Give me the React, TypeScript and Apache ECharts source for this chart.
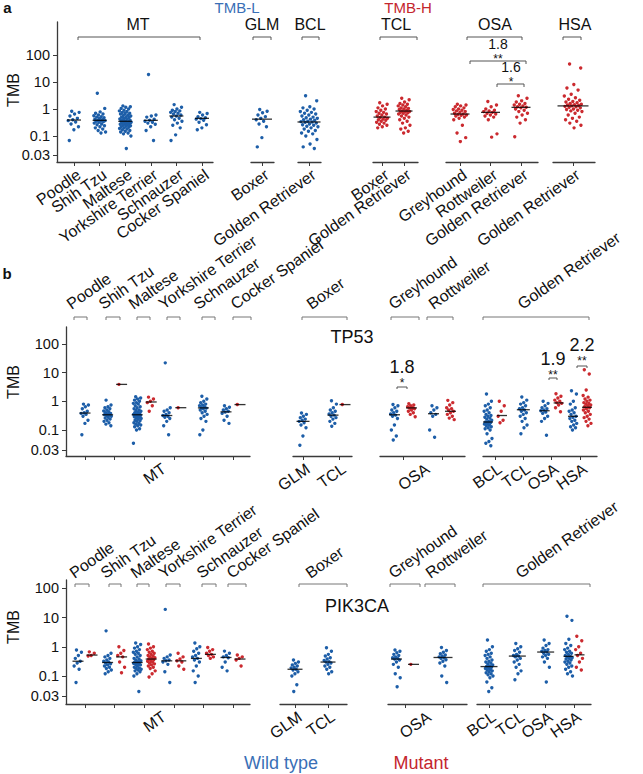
import React, { useEffect, useRef } from "react";
import * as echarts from "echarts";

// ================= DATA =================
// Y tick labels (TMB)
const yTickValues = [0.03, 0.1, 1, 10, 100];
const yTickLabels = ["0.03", "0.1", "1", "10", "100"];

// ---------- Panel a ----------
const aGroupNames = ["MT", "GLM", "BCL", "TCL", "OSA", "HSA"];
const aCats_MT = ["Poodle", "Shih Tzu", "Maltese", "Yorkshire Terrier", "Schnauzer", "Cocker Spaniel"];
const aCats_GLM = ["Boxer"];
const aCats_BCL = ["Golden Retriever"];
const aCats_TCL = ["Boxer", "Golden Retriever"];
const aCats_OSA = ["Greyhound", "Rottweiler", "Golden Retriever"];
const aCats_HSA = ["Golden Retriever"];

const a_MT_Poodle = [0.82, 0.75, 0.65, 0.55, 0.45, 0.4, 0.37, 0.33, 0.28, 0.22, 0.17, 0.075];
const a_MT_ShihTzu = [3.8, 1.05, 0.78, 0.7, 0.65, 0.6, 0.56, 0.52, 0.5, 0.47, 0.45, 0.42, 0.4, 0.38, 0.37, 0.36, 0.35, 0.34, 0.32, 0.3, 0.28, 0.26, 0.24, 0.22, 0.2, 0.18, 0.16, 0.14, 0.13];
const a_MT_Maltese = [1.3, 1.2, 1.15, 1.05, 1.0, 0.9, 0.85, 0.8, 0.75, 0.7, 0.68, 0.65, 0.6, 0.58, 0.55, 0.52, 0.5, 0.48, 0.45, 0.43, 0.42, 0.4, 0.38, 0.36, 0.35, 0.34, 0.33, 0.32, 0.31, 0.3, 0.29, 0.28, 0.27, 0.26, 0.25, 0.24, 0.23, 0.22, 0.21, 0.2, 0.19, 0.18, 0.17, 0.16, 0.15, 0.14, 0.13, 0.12, 0.1, 0.045];
const a_MT_Yorkshire = [19, 0.6, 0.55, 0.5, 0.42, 0.38, 0.35, 0.32, 0.3, 0.27, 0.22, 0.16, 0.075];
const a_MT_Schnauzer = [1.45, 1.15, 1.0, 0.9, 0.85, 0.8, 0.75, 0.7, 0.65, 0.6, 0.55, 0.5, 0.45, 0.4, 0.35, 0.3, 0.25, 0.2, 0.11, 0.075];
const a_MT_Cocker = [0.75, 0.68, 0.6, 0.52, 0.47, 0.44, 0.42, 0.38, 0.32, 0.26, 0.2, 0.17];
const a_GLM_Boxer = [0.95, 0.82, 0.72, 0.6, 0.52, 0.45, 0.4, 0.35, 0.28, 0.22, 0.09, 0.05];
const a_BCL_Golden = [3.1, 2.0, 1.2, 1.1, 1.0, 0.9, 0.8, 0.75, 0.7, 0.65, 0.6, 0.55, 0.5, 0.47, 0.45, 0.42, 0.4, 0.38, 0.35, 0.34, 0.33, 0.32, 0.3, 0.28, 0.26, 0.25, 0.23, 0.22, 0.2, 0.18, 0.16, 0.15, 0.13, 0.12, 0.1, 0.08, 0.06, 0.05, 0.045];
const a_TCL_Boxer = [1.7, 1.5, 1.3, 1.1, 1.0, 0.9, 0.8, 0.75, 0.7, 0.65, 0.6, 0.55, 0.5, 0.48, 0.45, 0.42, 0.4, 0.38, 0.35, 0.32, 0.3, 0.27, 0.25, 0.22, 0.2];
const a_TCL_Golden = [2.5, 2.2, 1.8, 1.6, 1.5, 1.4, 1.3, 1.2, 1.1, 1.05, 1.0, 0.95, 0.9, 0.85, 0.8, 0.78, 0.75, 0.72, 0.7, 0.65, 0.6, 0.55, 0.5, 0.45, 0.4, 0.35, 0.3, 0.25, 0.2, 0.18, 0.15, 0.13];
const a_OSA_Greyhound = [1.5, 1.4, 1.3, 1.2, 1.1, 1.0, 0.95, 0.9, 0.85, 0.8, 0.75, 0.7, 0.65, 0.62, 0.6, 0.58, 0.55, 0.5, 0.45, 0.4, 0.25, 0.13, 0.09, 0.07];
const a_OSA_Rottweiler = [1.9, 1.4, 1.2, 1.0, 0.9, 0.85, 0.8, 0.75, 0.7, 0.65, 0.6, 0.55, 0.5, 0.4, 0.12, 0.093];
const a_OSA_Golden = [3.1, 2.5, 2.0, 1.8, 1.6, 1.5, 1.4, 1.3, 1.2, 1.15, 1.1, 1.0, 0.9, 0.8, 0.7, 0.6, 0.5, 0.4, 0.3, 0.095];
const a_HSA_Golden = [46, 33, 8, 6, 5, 3.5, 3, 2.6, 2.3, 2.1, 1.9, 1.8, 1.7, 1.6, 1.5, 1.45, 1.4, 1.35, 1.3, 1.25, 1.2, 1.15, 1.1, 1.0, 0.95, 0.9, 0.85, 0.8, 0.7, 0.6, 0.5, 0.45, 0.4, 0.35, 0.3, 0.25, 0.2];

const aMed_MT = [0.39, 0.38, 0.35, 0.38, 0.55, 0.45];
const aMed_GLM = [0.42];
const aMed_BCL = [0.33];
const aMed_TCL = [0.5, 0.84];
const aMed_OSA = [0.65, 0.75, 1.15];
const aMed_HSA = [1.3];

const aSigValues = ["1.8", "1.6"];
const aSigStars = ["**", "*"];

// ---------- Panel b ----------
const bTopLabels = ["Poodle", "Shih Tzu", "Maltese", "Yorkshire Terrier", "Schnauzer", "Cocker Spaniel", "Boxer", "Greyhound", "Rottweiler", "Golden Retriever"];
const bCats_MT = ["MT"];
const bCats_Boxer = ["GLM", "TCL"];
const bCats_OSA = ["OSA"];
const bCats_Golden = ["BCL", "TCL", "OSA", "HSA"];
const legendLabels = ["Wild type", "Mutant"];

// TP53 — wild type / mutant per category
const tp53_MT_WT = [
  [0.8, 0.75, 0.65, 0.55, 0.45, 0.4, 0.38, 0.35, 0.3, 0.22, 0.17, 0.075],
  [1.1, 0.75, 0.65, 0.6, 0.55, 0.5, 0.46, 0.43, 0.4, 0.38, 0.36, 0.34, 0.33, 0.32, 0.3, 0.28, 0.26, 0.24, 0.22, 0.2, 0.18, 0.16, 0.14],
  [1.45, 1.3, 1.2, 1.1, 1.0, 0.9, 0.85, 0.8, 0.7, 0.65, 0.6, 0.55, 0.5, 0.48, 0.45, 0.42, 0.4, 0.38, 0.36, 0.35, 0.34, 0.33, 0.32, 0.3, 0.29, 0.28, 0.26, 0.25, 0.24, 0.22, 0.21, 0.2, 0.18, 0.17, 0.16, 0.15, 0.14, 0.13, 0.11, 0.1, 0.045],
  [22, 0.6, 0.5, 0.45, 0.4, 0.35, 0.32, 0.3, 0.28, 0.25, 0.2, 0.14, 0.075],
  [1.5, 1.2, 1.0, 0.9, 0.8, 0.75, 0.7, 0.65, 0.6, 0.58, 0.55, 0.5, 0.45, 0.4, 0.35, 0.3, 0.25, 0.2, 0.1, 0.075],
  [0.7, 0.62, 0.55, 0.5, 0.45, 0.42, 0.38, 0.3, 0.22, 0.17],
];
const tp53_MT_MUT = [[], [3.9], [1.4, 1.2, 1.0, 0.9, 0.7, 0.45], [0.6], [], [0.77]];
const tp53_MT_WTmed = [0.39, 0.34, 0.34, 0.32, 0.59, 0.43];
const tp53_MT_MUTmed = [null, 3.9, 0.95, 0.6, null, 0.77];

const tp53_Boxer_WT = [
  [0.39, 0.35, 0.3, 0.27, 0.24, 0.22, 0.2, 0.18, 0.15, 0.12, 0.07, 0.04],
  [1.05, 0.8, 0.6, 0.5, 0.45, 0.4, 0.36, 0.33, 0.3, 0.27, 0.24, 0.2, 0.17, 0.135],
];
const tp53_Boxer_MUT = [[], [0.77]];
const tp53_Boxer_WTmed = [0.2, 0.33];
const tp53_Boxer_MUTmed = [null, 0.77];

const tp53_OSA_WT = [
  [0.77, 0.7, 0.6, 0.5, 0.45, 0.4, 0.36, 0.33, 0.3, 0.25, 0.15, 0.1, 0.07, 0.055],
  [0.7, 0.6, 0.5, 0.4, 0.35, 0.3, 0.1, 0.065],
];
const tp53_OSA_MUT = [
  [0.83, 0.75, 0.7, 0.65, 0.6, 0.58, 0.55, 0.5, 0.45, 0.4, 0.35, 0.29],
  [1.08, 0.9, 0.75, 0.6, 0.55, 0.5, 0.45, 0.4, 0.35, 0.3, 0.26, 0.23],
];
const tp53_OSA_WTmed = [0.34, 0.37];
const tp53_OSA_MUTmed = [0.59, 0.45];

const tp53_Golden_WT = [
  [1.8, 1.0, 0.8, 0.7, 0.6, 0.5, 0.45, 0.4, 0.35, 0.32, 0.3, 0.28, 0.26, 0.24, 0.22, 0.2, 0.19, 0.18, 0.17, 0.16, 0.15, 0.14, 0.13, 0.12, 0.11, 0.1, 0.08, 0.06, 0.05, 0.045, 0.039],
  [1.42, 1.1, 0.9, 0.8, 0.7, 0.6, 0.55, 0.5, 0.45, 0.4, 0.35, 0.3, 0.25, 0.2, 0.15, 0.12, 0.08],
  [1.0, 0.85, 0.7, 0.6, 0.55, 0.5, 0.47, 0.42, 0.38, 0.3, 0.25, 0.2, 0.073],
  [2.35, 1.8, 1.0, 0.8, 0.6, 0.5, 0.45, 0.4, 0.35, 0.3, 0.28, 0.25, 0.22, 0.2, 0.17, 0.15, 0.13, 0.12, 0.1],
];
const tp53_Golden_MUT = [
  [1.0, 0.7, 0.45, 0.3, 0.22, 0.18],
  [],
  [1.85, 1.5, 1.3, 1.1, 1.0, 0.9, 0.85, 0.75, 0.6, 0.43],
  [12.7, 9, 2.5, 1.6, 1.4, 1.2, 1.1, 1.0, 0.9, 0.85, 0.8, 0.75, 0.7, 0.65, 0.6, 0.55, 0.5, 0.45, 0.4, 0.35, 0.3, 0.27, 0.24, 0.2, 0.17, 0.14],
];
const tp53_Golden_WTmed = [0.19, 0.51, 0.47, 0.3];
const tp53_Golden_MUTmed = [0.32, null, 0.88, 0.62];

const tp53SigValues = ["1.8", "1.9", "2.2"];
const tp53SigStars = ["*", "**", "**"];

// PIK3CA — wild type / mutant per category
const pik_MT_WT = [
  [0.77, 0.65, 0.5, 0.4, 0.32, 0.28, 0.22, 0.17, 0.068],
  [3.5, 0.6, 0.5, 0.45, 0.4, 0.35, 0.32, 0.3, 0.28, 0.26, 0.24, 0.22, 0.2, 0.18, 0.16, 0.14, 0.12],
  [1.35, 1.2, 1.0, 0.9, 0.8, 0.7, 0.65, 0.6, 0.55, 0.5, 0.45, 0.4, 0.38, 0.35, 0.33, 0.31, 0.3, 0.29, 0.28, 0.27, 0.26, 0.25, 0.24, 0.22, 0.2, 0.19, 0.18, 0.17, 0.16, 0.15, 0.14, 0.12, 0.1, 0.04],
  [19, 0.52, 0.45, 0.4, 0.35, 0.33, 0.3, 0.25, 0.14, 0.068],
  [1.35, 1.0, 0.85, 0.7, 0.6, 0.5, 0.45, 0.4, 0.35, 0.3, 0.22, 0.15, 0.1, 0.068],
  [0.71, 0.6, 0.5, 0.45, 0.42, 0.3, 0.2, 0.15],
];
const pik_MT_MUT = [
  [0.67, 0.6, 0.5, 0.48],
  [1.0, 0.75, 0.6, 0.5, 0.45, 0.3, 0.2, 0.13],
  [1.25, 1.0, 0.9, 0.8, 0.7, 0.65, 0.6, 0.55, 0.5, 0.48, 0.45, 0.42, 0.4, 0.38, 0.36, 0.34, 0.32, 0.3, 0.28, 0.26, 0.24, 0.22, 0.2, 0.18, 0.15, 0.12, 0.094],
  [0.6, 0.45, 0.38, 0.33, 0.3, 0.22, 0.17],
  [0.95, 0.8, 0.7, 0.6, 0.55, 0.5, 0.45, 0.4],
  [0.52, 0.45, 0.4, 0.35, 0.22],
];
const pik_MT_WTmed = [0.32, 0.29, 0.29, 0.33, 0.4, 0.43];
const pik_MT_MUTmed = [0.52, 0.45, 0.38, 0.33, 0.55, 0.38];

const pik_Boxer_WT = [
  [0.35, 0.3, 0.27, 0.24, 0.22, 0.2, 0.19, 0.17, 0.16, 0.14, 0.12, 0.1, 0.06, 0.04],
  [0.92, 0.7, 0.55, 0.48, 0.42, 0.38, 0.34, 0.31, 0.3, 0.28, 0.25, 0.22, 0.2, 0.17, 0.14, 0.12],
];
const pik_Boxer_MUT = [[], []];
const pik_Boxer_WTmed = [0.17, 0.3];
const pik_Boxer_MUTmed = [null, null];

const pik_OSA_WT = [
  [0.77, 0.7, 0.62, 0.55, 0.5, 0.45, 0.42, 0.4, 0.38, 0.35, 0.3, 0.25, 0.2, 0.12, 0.09, 0.053],
  [0.95, 0.75, 0.65, 0.58, 0.52, 0.48, 0.45, 0.42, 0.4, 0.36, 0.32, 0.28, 0.22, 0.1, 0.068],
];
const pik_OSA_MUT = [[0.25], []];
const pik_OSA_WTmed = [0.38, 0.43];
const pik_OSA_MUTmed = [0.25, null];

const pik_Golden_WT = [
  [1.7, 1.0, 0.8, 0.7, 0.6, 0.55, 0.5, 0.45, 0.4, 0.35, 0.32, 0.3, 0.28, 0.26, 0.24, 0.22, 0.21, 0.2, 0.19, 0.18, 0.17, 0.16, 0.15, 0.14, 0.13, 0.12, 0.11, 0.1, 0.09, 0.07, 0.05, 0.04],
  [1.3, 1.0, 0.85, 0.75, 0.65, 0.55, 0.5, 0.48, 0.45, 0.4, 0.35, 0.3, 0.25, 0.2, 0.15, 0.12, 0.08],
  [1.7, 1.3, 1.1, 0.9, 0.8, 0.75, 0.7, 0.66, 0.6, 0.55, 0.5, 0.45, 0.4, 0.3, 0.2, 0.07],
  [11, 8, 1.8, 1.3, 1.1, 0.9, 0.8, 0.7, 0.65, 0.6, 0.55, 0.5, 0.47, 0.45, 0.42, 0.4, 0.38, 0.35, 0.32, 0.3, 0.28, 0.25, 0.22, 0.2, 0.17, 0.14, 0.12, 0.1],
];
const pik_Golden_MUT = [[], [], [], [2.3, 1.6, 1.0, 0.8, 0.6, 0.5, 0.4, 0.3, 0.2, 0.16]];
const pik_Golden_WTmed = [0.21, 0.48, 0.66, 0.47];
const pik_Golden_MUTmed = [null, null, null, 0.53];

// ================= LAYOUT / STYLE =================
const FONT = '"Liberation Sans", Arial, Helvetica, sans-serif';
const BLUE = "#1d5ea8";
const RED = "#cb2a2f";
const BLUE_T = "#3a6fb6";
const RED_T = "#c4262e";
const INK = "#111111";
const AXIS = "#3a3a3a";
const LABEL_SHIFT = 5;
const CAT_FONT = 16;
const ROT = (35 * Math.PI) / 180;

// axis transform: log10 above 0.1, stretched log below (matches the figure's spacing)
const tr = (v: number) => (v >= 0.1 ? Math.log10(v) : -1 + 1.34 * Math.log10(v / 0.1));

const jit = (i: number) => ((i * 0.618034 + 0.31) % 1) - 0.5;

type Seg = { x0: number; x1: number; ticks: number[]; jit: number; medW: number; medW1?: number; dodge?: number };

function segScale(seg: Seg) {
  const n = seg.ticks.length;
  const s = n > 1 ? (seg.ticks[n - 1] - seg.ticks[0]) / (n - 1) : seg.x1 - seg.x0;
  const min = -(seg.ticks[0] - seg.x0) / s;
  const max = n - 1 + (seg.x1 - seg.ticks[n - 1]) / s;
  return { s, min, max };
}

const aLayout: Seg[] = [
  { x0: 57, x1: 213, ticks: [74, 99, 124, 151, 177, 202], jit: 6, medW: 14 },
  { x0: 251, x1: 274, ticks: [262], jit: 6, medW: 20 },
  { x0: 298, x1: 321, ticks: [309], jit: 9, medW: 23 },
  { x0: 373, x1: 418, ticks: [382, 404], jit: 6, medW: 17 },
  { x0: 446, x1: 538, ticks: [460, 491, 521], jit: 7, medW: 19 },
  { x0: 553, x1: 595, ticks: [573], jit: 9, medW: 31 },
];
const tp53Layout: Seg[] = [
  { x0: 66, x1: 250, ticks: [85, 114, 144, 173, 203, 233], jit: 4, medW: 11, medW1: 11, dodge: 7 },
  { x0: 293, x1: 352, ticks: [303, 339], jit: 4, medW: 11, medW1: 13, dodge: 6 },
  { x0: 380, x1: 465, ticks: [403, 442], jit: 4, medW: 11, medW1: 16, dodge: 8.5 },
  { x0: 483, x1: 597, ticks: [495, 523, 552, 580], jit: 4, medW: 10, medW1: 13, dodge: 7 },
];
const pikLayout: Seg[] = [
  { x0: 66, x1: 250, ticks: [85, 114, 144, 173, 203, 233], jit: 4, medW: 11, medW1: 11, dodge: 7 },
  { x0: 280, x1: 347, ticks: [295, 328], jit: 4, medW: 11, medW1: 15, dodge: 6 },
  { x0: 388, x1: 467, ticks: [405, 443], jit: 4, medW: 11, medW1: 19, dodge: 8.5 },
  { x0: 477, x1: 591, ticks: [489, 518, 546, 574], jit: 4, medW: 10, medW1: 17, dodge: 5.5 },
];

function buildOption() {
  const grids: any[] = [];
  const xAxes: any[] = [];
  const yAxes: any[] = [];
  const series: any[] = [];
  const g: any[] = [];
  const yTicks = yTickValues.map(tr);
  const yFmt = (v: number) => {
    const i = yTicks.findIndex((t) => Math.abs(t - v) < 1e-4);
    return i >= 0 ? yTickLabels[i] : "";
  };

  const text = (x: number, y: number, t: string, o: any = {}) =>
    g.push({
      type: "text",
      x,
      y,
      rotation: o.rotation || 0,
      silent: true,
      style: {
        text: t,
        fill: o.fill || INK,
        fontSize: o.size || 14,
        fontFamily: FONT,
        fontWeight: o.weight || "normal",
        align: o.align || "center",
        verticalAlign: o.va || "middle",
        textAlign: o.align || "center",
        textVerticalAlign: o.va || "middle",
      },
    });
  const bracket = (x0: number, x1: number, y: number, h = 3, color = "#555") =>
    g.push({
      type: "polyline",
      silent: true,
      shape: { points: [[x0, y + h], [x0, y], [x1, y], [x1, y + h]] },
      style: { stroke: color, lineWidth: 1, fill: null },
    });

  // labelMode: "axis" -> ECharts axis labels; "graphic" -> rotated texts placed under each tick
  function addGrid(seg: Seg, top: number, bottom: number, yMin: number, yMax: number, first: boolean, labelPos: number[], labelTexts: string[], labelMode: string) {
    const gi = grids.length;
    const { s, min, max } = segScale(seg);
    grids.push({ left: seg.x0, width: seg.x1 - seg.x0, top, height: bottom - top, containLabel: false, outerBoundsMode: "none" });
    const labVals = labelPos.map((p) => p + LABEL_SHIFT / s);
    const useAxis = labelMode === "axis";
    if (!useAxis) {
      labelPos.forEach((p, i) => {
        const px = seg.x0 + ((p - min) / (max - min)) * (seg.x1 - seg.x0) + LABEL_SHIFT;
        text(px, bottom + 11, labelTexts[i], { align: "right", va: "middle", rotation: ROT, size: CAT_FONT });
      });
    }
    xAxes.push({
      type: "value",
      gridIndex: gi,
      min,
      max,
      axisLine: { show: true, onZero: false, lineStyle: { color: AXIS, width: 1.3 } },
      axisTick: { show: true, customValues: seg.ticks.map((_, i) => i), length: 4, lineStyle: { color: AXIS, width: 1 } },
      axisLabel: {
        show: useAxis,
        customValues: labVals,
        interval: 0,
        showMinLabel: true,
        showMaxLabel: true,
        hideOverlap: false,
        rotate: 35,
        margin: 11,
        fontSize: CAT_FONT,
        color: INK,
        fontFamily: FONT,
        formatter: (v: number) => {
          const i = labVals.findIndex((t) => Math.abs(t - v) < 1e-4);
          return i >= 0 ? labelTexts[i] : "";
        },
      },
      splitLine: { show: false },
    });
    yAxes.push(
      first
        ? {
            type: "value",
            gridIndex: gi,
            min: yMin,
            max: yMax,
            axisLine: { show: true, onZero: false, lineStyle: { color: AXIS, width: 1.3 } },
            axisTick: { show: true, customValues: yTicks, length: 4, lineStyle: { color: AXIS, width: 1 } },
            axisLabel: {
              show: true,
              customValues: yTicks,
              formatter: yFmt,
              showMinLabel: true,
              showMaxLabel: true,
              fontSize: 14.5,
              color: INK,
              fontFamily: FONT,
              margin: 7,
            },
            splitLine: { show: false },
          }
        : { type: "value", gridIndex: gi, min: yMin, max: yMax, show: false }
    );
    return { gi, s };
  }

  function addPoints(gi: number, color: string, data: number[][]) {
    series.push({
      type: "scatter",
      xAxisIndex: gi,
      yAxisIndex: gi,
      symbolSize: 3.4,
      itemStyle: { color, opacity: 1 },
      data,
      silent: true,
      z: 2,
    });
  }
  function addMedians(gi: number, data: number[][], w: number) {
    series.push({
      type: "scatter",
      xAxisIndex: gi,
      yAxisIndex: gi,
      symbol: "rect",
      symbolSize: [w, 1.3],
      itemStyle: { color: "#000" },
      data,
      silent: true,
      z: 3,
    });
  }

  // ---- panel a ----
  const aVals = [
    [a_MT_Poodle, a_MT_ShihTzu, a_MT_Maltese, a_MT_Yorkshire, a_MT_Schnauzer, a_MT_Cocker],
    [a_GLM_Boxer],
    [a_BCL_Golden],
    [a_TCL_Boxer, a_TCL_Golden],
    [a_OSA_Greyhound, a_OSA_Rottweiler, a_OSA_Golden],
    [a_HSA_Golden],
  ];
  const aMeds = [aMed_MT, aMed_GLM, aMed_BCL, aMed_TCL, aMed_OSA, aMed_HSA];
  const aCats = [aCats_MT, aCats_GLM, aCats_BCL, aCats_TCL, aCats_OSA, aCats_HSA];
  const aColors = [BLUE, BLUE, BLUE, RED, RED, RED];
  aLayout.forEach((seg, k) => {
    const { gi, s } = addGrid(seg, 22, 162, -1.963, 3.22, k === 0, aCats[k].map((_, i) => i), aCats[k], "graphic");
    const pts: number[][] = [];
    aVals[k].forEach((arr, c) => arr.forEach((v, i) => pts.push([c + (jit(i) * 2 * seg.jit) / s, tr(v)])));
    addPoints(gi, aColors[k], pts);
    addMedians(gi, aMeds[k].map((m, c) => [c, tr(m)]), seg.medW);
  });

  // ---- panel b ----
  function addGenePanel(layout: Seg[], top: number, bottom: number, yMin: number, yMax: number, segs: any[]) {
    const labelsPos = [[2.5], [0, 1], [0.5], [0, 1, 2, 3]];
    const labelsTxt = [bCats_MT, bCats_Boxer, bCats_OSA, bCats_Golden];
    layout.forEach((seg, k) => {
      const { gi, s } = addGrid(seg, top, bottom, yMin, yMax, k === 0, labelsPos[k], labelsTxt[k], "axis");
      const d = segs[k];
      const wtPts: number[][] = [];
      const mutPts: number[][] = [];
      const medDual: number[][] = [];
      const medSingle: number[][] = [];
      d.wt.forEach((arr: number[], c: number) => {
        const both = arr.length > 0 && d.mut[c].length > 0;
        const off = both ? -(seg.dodge || 7) : 0;
        arr.forEach((v, i) => wtPts.push([c + (off + jit(i) * 2 * seg.jit) / s, tr(v)]));
        if (d.wtMed[c] != null) (both ? medDual : medSingle).push([c + off / s, tr(d.wtMed[c])]);
      });
      d.mut.forEach((arr: number[], c: number) => {
        const both = arr.length > 0 && d.wt[c].length > 0;
        const off = both ? seg.dodge || 7 : 0;
        arr.forEach((v, i) => mutPts.push([c + (off + jit(i + 3) * 2 * seg.jit) / s, tr(v)]));
        if (d.mutMed[c] != null) (both ? medDual : medSingle).push([c + off / s, tr(d.mutMed[c])]);
      });
      addPoints(gi, BLUE, wtPts);
      addPoints(gi, RED, mutPts);
      addMedians(gi, medDual, seg.medW);
      addMedians(gi, medSingle, seg.medW1 || seg.medW);
    });
  }

  addGenePanel(tp53Layout, 327, 456, -1.907, 2.593, [
    { wt: tp53_MT_WT, mut: tp53_MT_MUT, wtMed: tp53_MT_WTmed, mutMed: tp53_MT_MUTmed },
    { wt: tp53_Boxer_WT, mut: tp53_Boxer_MUT, wtMed: tp53_Boxer_WTmed, mutMed: tp53_Boxer_MUTmed },
    { wt: tp53_OSA_WT, mut: tp53_OSA_MUT, wtMed: tp53_OSA_WTmed, mutMed: tp53_OSA_MUTmed },
    { wt: tp53_Golden_WT, mut: tp53_Golden_MUT, wtMed: tp53_Golden_WTmed, mutMed: tp53_Golden_MUTmed },
  ]);
  addGenePanel(pikLayout, 580, 704, -1.958, 2.284, [
    { wt: pik_MT_WT, mut: pik_MT_MUT, wtMed: pik_MT_WTmed, mutMed: pik_MT_MUTmed },
    { wt: pik_Boxer_WT, mut: pik_Boxer_MUT, wtMed: pik_Boxer_WTmed, mutMed: pik_Boxer_MUTmed },
    { wt: pik_OSA_WT, mut: pik_OSA_MUT, wtMed: pik_OSA_WTmed, mutMed: pik_OSA_MUTmed },
    { wt: pik_Golden_WT, mut: pik_Golden_MUT, wtMed: pik_Golden_WTmed, mutMed: pik_Golden_MUTmed },
  ]);

  // ---- graphic annotations ----
  // panel letters
  text(7.5, 7, "a", { weight: "bold", size: 15 });
  text(7, 273, "b", { weight: "bold", size: 15 });
  // TMB titles
  text(13, 90, "TMB", { rotation: Math.PI / 2, size: 16 });
  text(13, 382, "TMB", { rotation: Math.PI / 2, size: 16 });
  text(13, 627, "TMB", { rotation: Math.PI / 2, size: 16 });
  // TMB-L / TMB-H
  text(237, 7, "TMB-L", { fill: BLUE_T, size: 15 });
  text(408, 7, "TMB-H", { fill: RED_T, size: 15 });
  // panel a group labels and brackets
  const aGroupX = [138, 262, 310, 396, 495, 575];
  const aBr = [[78, 200], [253, 271], [302, 319], [380, 417], [467, 522], [563, 581]];
  aGroupNames.forEach((nm, i) => {
    text(aGroupX[i], 24, nm, { size: 16 });
    bracket(aBr[i][0], aBr[i][1], 37);
  });
  // panel a significance
  text(498, 44, aSigValues[0], { size: 14 });
  text(498, 58.5, aSigStars[0], { size: 12 });
  bracket(470, 526, 61);
  text(511, 67, aSigValues[1], { size: 14 });
  text(511, 81.5, aSigStars[1], { size: 12 });
  bracket(497, 524, 84);

  // panel b titles
  text(352, 337, "TP53", { size: 18 });
  text(357, 606, "PIK3CA", { size: 18 });

  // panel b top brackets & rotated breed labels
  const tp53Br = [[74, 87], [106, 120], [137, 150], [167, 180], [202, 215], [233, 251], [302, 347], [391, 419], [427, 453], [483, 589]];
  const tp53LabX = [73, 105, 135, 165, 200, 237, 313, 395, 435, 524];
  const pikBr = [[75, 89], [109, 121], [137, 149], [166, 180], [202, 216], [228, 246], [299, 347], [390, 420], [425, 455], [483, 590]];
  const pikLabX = [76, 107, 137, 165, 203, 233, 312, 395, 432, 522];
  bTopLabels.forEach((nm, i) => {
    bracket(tp53Br[i][0], tp53Br[i][1], 317, 3, "#777");
    text(tp53LabX[i], 312, nm, { align: "left", va: "bottom", rotation: ROT, size: CAT_FONT });
    bracket(pikBr[i][0], pikBr[i][1], 584, 3, "#777");
    text(pikLabX[i], 581, nm, { align: "left", va: "bottom", rotation: ROT, size: CAT_FONT });
  });

  // TP53 significance
  const sigX = [402, 553, 582];
  const sigY = [367, 359, 345];
  const sigBr = [[397, 407, 387], [549, 557, 378], [577, 587, 366]];
  tp53SigValues.forEach((t, i) => {
    text(sigX[i], sigY[i], t, { size: 18 });
    text(sigX[i], sigY[i] + 15.5, tp53SigStars[i], { size: 12 });
    bracket(sigBr[i][0], sigBr[i][1], sigBr[i][2], 2, "#555");
  });

  // legend
  text(281, 763, legendLabels[0], { fill: BLUE_T, size: 18 });
  text(421, 763, legendLabels[1], { fill: RED_T, size: 18 });

  return {
    animation: false,
    backgroundColor: "#ffffff",
    grid: grids,
    xAxis: xAxes,
    yAxis: yAxes,
    series,
    graphic: g,
  };
}

export default function App() {
  const ref = useRef<HTMLDivElement>(null);
  useEffect(() => {
    if (!ref.current) return;
    const chart = echarts.init(ref.current, undefined, { renderer: "svg" });
    chart.setOption(buildOption() as any);
    return () => chart.dispose();
  }, []);
  return <div ref={ref} style={{ position: "absolute", left: 0, top: 0, width: 643, height: 774, background: "#fff" }} />;
}
